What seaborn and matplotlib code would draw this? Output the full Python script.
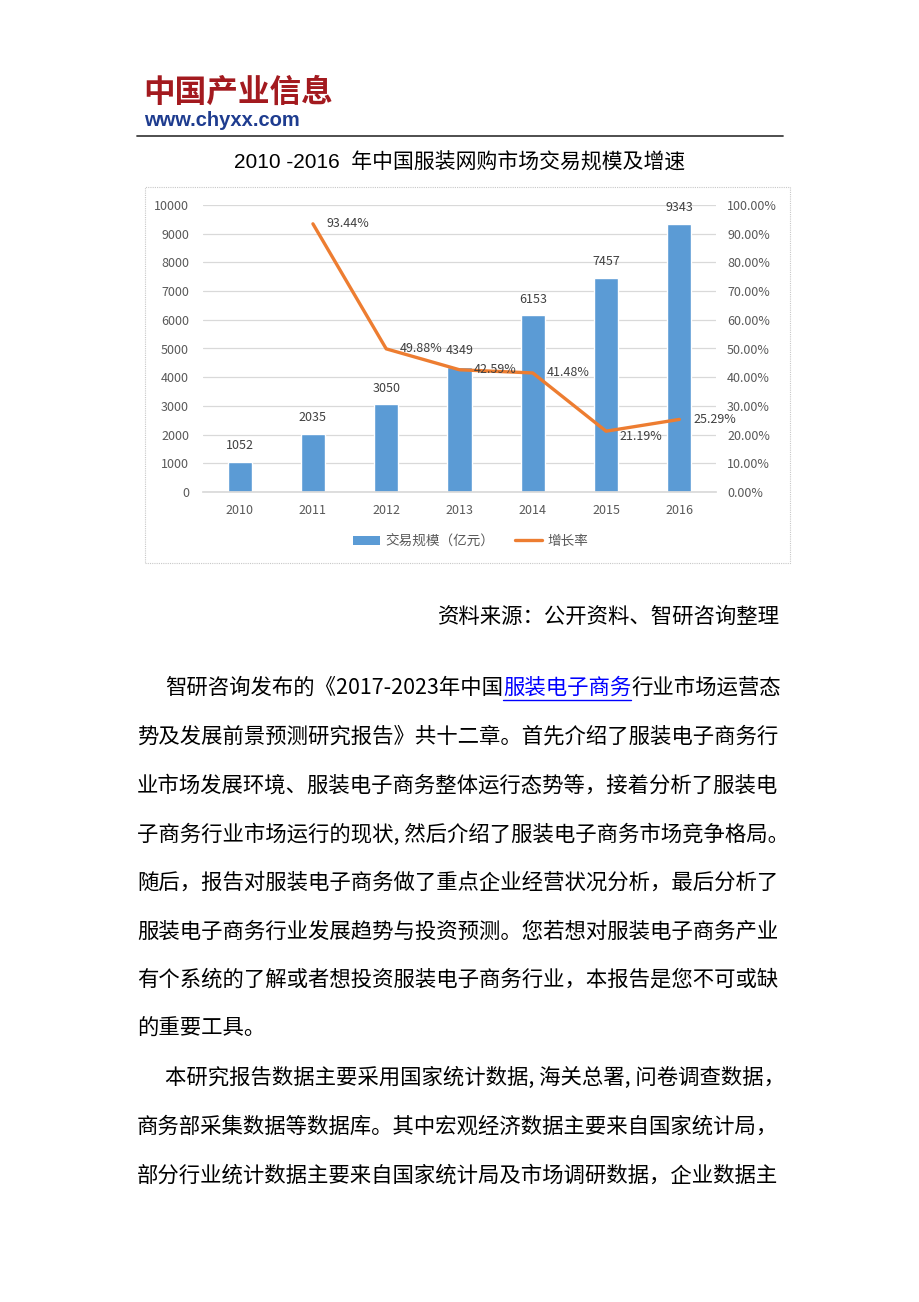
import numpy as np
import pandas as pd
import matplotlib
matplotlib.use("Agg")
import matplotlib.pyplot as plt
from matplotlib.patches import Rectangle, Patch
from matplotlib.lines import Line2D
import seaborn as sns

# ---------------- data ----------------
years = ["2010", "2011", "2012", "2013", "2014", "2015", "2016"]
scale = [1052, 2035, 3050, 4349, 6153, 7457, 9343]          # 交易规模（亿元）
growth = [np.nan, 93.44, 49.88, 42.59, 41.48, 21.19, 25.29]  # 增长率 (%)
left_ticks = list(range(0, 10001, 1000))
right_ticks = [i / 10 for i in range(0, 11)]

title = "2010 -2016  年中国服装网购市场交易规模及增速"
legend_bar = "交易规模（亿元）"
legend_line = "增长率"
source = "资料来源：公开资料、智研咨询整理"
logo_cn = "中国产业信息"
logo_url = "www.chyxx.com"
para_line1 = ["智研咨询发布的《2017-2023年中国", "服装电子商务", "行业市场运营态"]
body_lines = [
    "势及发展前景预测研究报告》共十二章。首先介绍了服装电子商务行",
    "业市场发展环境、服装电子商务整体运行态势等，接着分析了服装电",
    "子商务行业市场运行的现状, 然后介绍了服装电子商务市场竞争格局。",
    "随后，报告对服装电子商务做了重点企业经营状况分析，最后分析了",
    "服装电子商务行业发展趋势与投资预测。您若想对服装电子商务产业",
    "有个系统的了解或者想投资服装电子商务行业，本报告是您不可或缺",
    "的重要工具。",
]
para2_first = "本研究报告数据主要采用国家统计数据, 海关总署, 问卷调查数据，"
para2_lines = [
    "商务部采集数据等数据库。其中宏观经济数据主要来自国家统计局，",
    "部分行业统计数据主要来自国家统计局及市场调研数据，企业数据主",
]

df = pd.DataFrame({"year": years, "scale": scale, "growth": growth})
df["pos"] = np.arange(len(years))
df["rate"] = df["growth"] / 100.0

# ---------------- style ----------------
sns.set_theme(style="white")
FAM = ["Noto Sans CJK SC", "DejaVu Sans"]
plt.rcParams["font.family"] = FAM

W, H = 920, 1302
fig = plt.figure(figsize=(W / 100, H / 100), dpi=100)
fig.patch.set_facecolor("white")

def fx(x):
    return x / W

def fy(y):
    return 1 - y / H

BAR = "#5B9BD5"
LINE = "#ED7D31"
TXT = "#595959"

# ---------------- header ----------------
fig.text(fx(143), fy(93), logo_cn, fontsize=22.8, fontweight="heavy",
         color="#A31A1F", ha="left", va="center", family=FAM)
fig.text(fx(144), fy(120), logo_url, fontsize=14.5, fontweight="bold",
         color="#1E3C8F", ha="left", va="center",
         family=["Liberation Sans", "DejaVu Sans"])
fig.add_artist(Line2D([fx(137), fx(783)], [fy(136), fy(136)],
                      transform=fig.transFigure, color="#404040", lw=1.3))

fig.text(fx(460), fy(162), title, fontsize=15, color="black",
         ha="center", va="center",
         family=["Liberation Sans", "Noto Sans CJK SC", "DejaVu Sans"])

# chart frame
fig.add_artist(Rectangle((fx(145), fy(563)), fx(790) - fx(145), fy(187) - fy(563),
                         transform=fig.transFigure, fill=False,
                         edgecolor="#C8C8C8", lw=0.8, linestyle=(0, (1, 1))))

# ---------------- chart ----------------
ax = fig.add_axes([fx(203), fy(492), fx(716) - fx(203), fy(205) - fy(492)])
sns.barplot(data=df, x="pos", y="scale", color=BAR, width=0.33,
            saturation=1, ax=ax, native_scale=True)
ax.set_xlim(-0.5, len(years) - 0.5)
ax.set_ylim(0, 10000)
ax.set_yticks(left_ticks)
ax.set_yticklabels([str(t) for t in left_ticks])
ax.set_xticks(df["pos"])
ax.set_xticklabels(years)
ax.set_xlabel("")
ax.set_ylabel("")
ax.grid(axis="y", color="#D9D9D9", lw=0.9)
ax.set_axisbelow(True)
for s in ["top", "right", "left"]:
    ax.spines[s].set_visible(False)
ax.spines["bottom"].set_color("#D9D9D9")
ax.tick_params(axis="both", length=0, labelsize=9, colors=TXT)
ax.tick_params(axis="x", pad=9)
ax.tick_params(axis="y", pad=10)

for p, v in zip(df["pos"], df["scale"]):
    ax.annotate(str(v), (p, v), xytext=(0, 7), textcoords="offset points",
                ha="center", va="bottom", fontsize=9, color="#404040")

ax2 = ax.twinx()
sns.lineplot(data=df.dropna(), x="pos", y="rate", color=LINE, lw=2.4, ax=ax2)
ax2.set_ylim(0, 1)
ax2.set_yticks(right_ticks)
ax2.set_yticklabels([f"{t * 100:.2f}%" for t in right_ticks])
ax2.set_ylabel("")
ax2.set_xlabel("")
ax2.set_xlim(-0.5, len(years) - 0.5)
for s in ["top", "right", "left", "bottom"]:
    ax2.spines[s].set_visible(False)
ax2.tick_params(axis="y", length=0, labelsize=9, colors=TXT, pad=8)
ax2.grid(False)

for p, g in zip(df["pos"], df["growth"]):
    if np.isnan(g):
        continue
    dy = -4 if g < 22 else 0
    ax2.annotate(f"{g:.2f}%", (p, g / 100), xytext=(10, dy),
                 textcoords="offset points", ha="left", va="center",
                 fontsize=9, color="#404040")

handles = [Patch(facecolor=BAR, edgecolor="none"),
           Line2D([0], [0], color=LINE, lw=2.4)]
fig.legend(handles, [legend_bar, legend_line], loc="center",
           bbox_to_anchor=(fx(471), fy(541)), ncol=2, frameon=False,
           fontsize=9.8, labelcolor=TXT, handlelength=2.0, handleheight=0.6,
           columnspacing=1.5, handletextpad=0.4)

# ---------------- body text ----------------
BODY = 15.4
fig.text(fx(780), fy(617), source, fontsize=BODY, color="black",
         ha="right", va="center", family=FAM)

renderer = fig.canvas.get_renderer()
x = 165
y1 = 688
for i, part in enumerate(para_line1):
    t = fig.text(fx(x), fy(y1), part, fontsize=BODY,
                 color="#0000FF" if i == 1 else "black",
                 ha="left", va="center", family=FAM)
    bb = t.get_window_extent(renderer)
    if i == 1:
        fig.add_artist(Line2D([fx(bb.x0), fx(bb.x1)], [fy(700), fy(700)],
                              transform=fig.transFigure, color="#0000FF", lw=1.0))
    x = bb.x1

line_ys = [737, 786, 835, 883, 932, 980, 1029]
for yy, s in zip(line_ys, body_lines):
    fig.text(fx(137), fy(yy), s, fontsize=BODY, color="black",
             ha="left", va="center", family=FAM)

fig.text(fx(165), fy(1078), para2_first, fontsize=BODY, color="black",
         ha="left", va="center", family=FAM)
for yy, s in zip([1127, 1176], para2_lines):
    fig.text(fx(137), fy(yy), s, fontsize=BODY, color="black",
             ha="left", va="center", family=FAM)

fig.savefig("out.png", dpi=100, facecolor="white")
